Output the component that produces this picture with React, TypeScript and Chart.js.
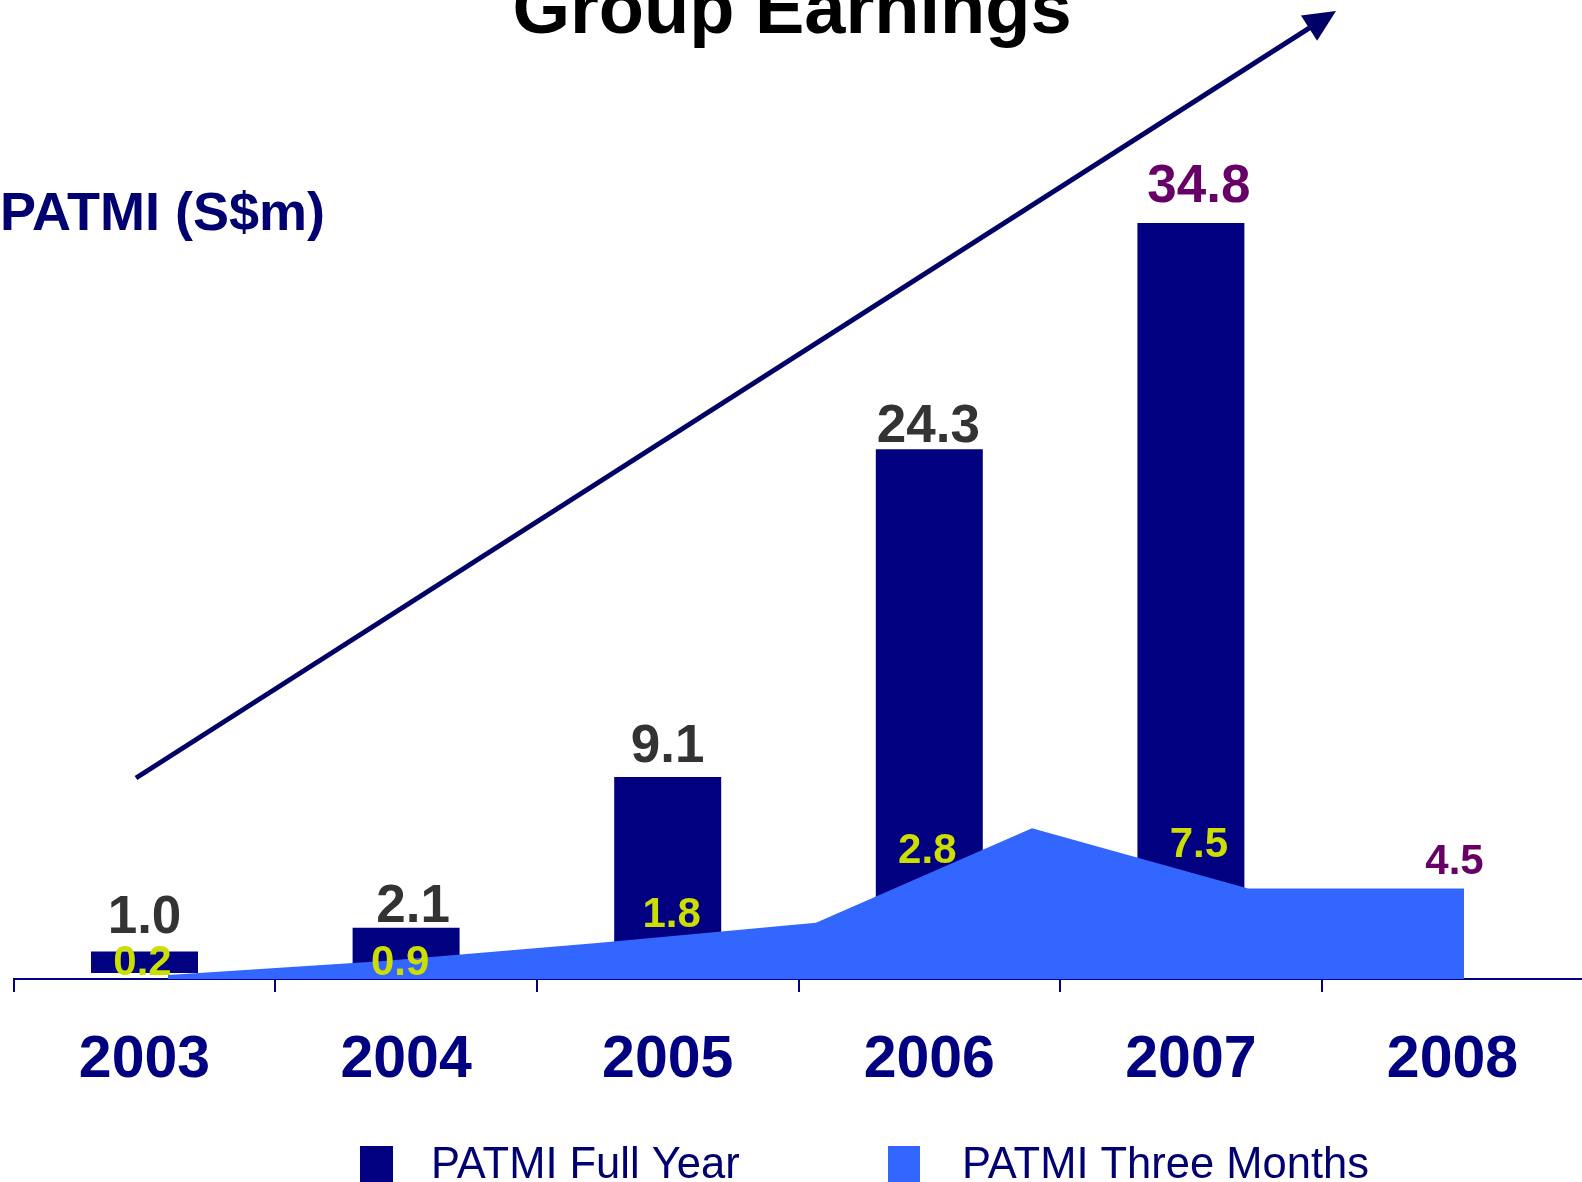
import React, { useEffect, useRef } from "react";
import { Chart, registerables } from "chart.js";

Chart.register(...registerables);

// ---- data ----
const years = ["2003", "2004", "2005", "2006", "2007", "2008"];
const fullYearValues: (number | null)[] = [1.0, 2.1, 9.1, 24.3, 34.8, null];
const threeMonthValues = [0.2, 0.9, 1.8, 2.8, 7.5, 4.5];
// vertices of the blue area as drawn in the picture (7 evenly spaced points)
const threeMonthAreaValues = [0.2, 0.9, 1.8, 2.8, 7.5, 4.5, 4.5];

const TITLE = "Group Earnings";
const Y_LABEL = "PATMI (S$m)";
const SERIES_FULL = "PATMI Full Year";
const SERIES_THREE = "PATMI Three Months";

// ---- styles / label placement ----
const FONT = '"Liberation Sans", Arial, Helvetica, sans-serif';
const NAVY = "#000080";
const NAVY_TEXT = "#000070";
const BLUE = "#3366FF";
const GREY = "#333333";
const PURPLE = "#660066";
const YELLOW = "#CCDD00";

const barLabelGap = [18, 6, 15, 7, 21];
const barLabelDx = [0, 7, 0, -1, 8];
const barLabelColor = [GREY, GREY, GREY, GREY, PURPLE];
const tmLabelDx = [-2, -6, 4, -2, 8, 2];
const tmLabelDy = [0, 14, -16, -60, 29, -15];
const tmLabelColor = [YELLOW, YELLOW, YELLOW, YELLOW, YELLOW, PURPLE];

const decorPlugin = {
  id: "decor",
  afterDraw(chart: any) {
    const ctx = chart.ctx as CanvasRenderingContext2D;
    const xs = chart.scales.x;
    const y2 = chart.scales.y2;
    ctx.save();

    // trend arrow
    const sx = 136, sy = 778, tx = 1336, ty = 11;
    const dx = tx - sx, dy = ty - sy;
    const len = Math.hypot(dx, dy);
    const ux = dx / len, uy = dy / len;
    const headLen = 32, headHalf = 15;
    const bx = tx - ux * headLen, by = ty - uy * headLen;
    ctx.strokeStyle = "#000066";
    ctx.lineWidth = 5;
    ctx.beginPath();
    ctx.moveTo(sx, sy);
    ctx.lineTo(bx + ux * 2, by + uy * 2);
    ctx.stroke();
    ctx.fillStyle = "#000066";
    ctx.beginPath();
    ctx.moveTo(tx, ty);
    ctx.lineTo(bx - uy * headHalf, by + ux * headHalf);
    ctx.lineTo(bx + uy * headHalf, by - ux * headHalf);
    ctx.closePath();
    ctx.fill();

    // title
    ctx.fillStyle = "#000000";
    ctx.font = `bold 74px ${FONT}`;
    ctx.textAlign = "center";
    ctx.textBaseline = "alphabetic";
    ctx.fillText(TITLE, 792, 33);

    // y label
    ctx.fillStyle = NAVY_TEXT;
    ctx.font = `bold 54px ${FONT}`;
    ctx.textAlign = "left";
    ctx.fillText(Y_LABEL, 0, 230);

    // full year labels
    const barMeta = chart.getDatasetMeta(1);
    ctx.font = `bold 53px ${FONT}`;
    ctx.textAlign = "center";
    fullYearValues.forEach((v, i) => {
      if (v == null) return;
      const bar = barMeta.data[i];
      ctx.fillStyle = barLabelColor[i];
      ctx.fillText(v.toFixed(1), bar.x + barLabelDx[i], bar.y - barLabelGap[i]);
    });

    // three month labels
    ctx.font = `bold 42px ${FONT}`;
    threeMonthValues.forEach((v, i) => {
      ctx.fillStyle = tmLabelColor[i];
      const px = xs.getPixelForValue(i) + tmLabelDx[i];
      const py = y2.getPixelForValue(v) + tmLabelDy[i];
      ctx.fillText(v.toFixed(1), px, py);
    });

    // legend
    const items = [
      { label: chart.data.datasets[1].label, color: chart.data.datasets[1].backgroundColor, bx: 360, bw: 33, tx: 431 },
      { label: chart.data.datasets[0].label, color: chart.data.datasets[0].backgroundColor, bx: 888, bw: 32, tx: 962 },
    ];
    ctx.font = `43.5px ${FONT}`;
    ctx.textAlign = "left";
    items.forEach((it) => {
      ctx.fillStyle = it.color;
      ctx.fillRect(it.bx, 1146, it.bw, 40);
      ctx.fillStyle = NAVY_TEXT;
      ctx.fillText(it.label, it.tx, 1178);
    });

    ctx.restore();
  },
};

export default function App() {
  const ref = useRef<HTMLCanvasElement | null>(null);

  useEffect(() => {
    if (!ref.current) return;
    Chart.defaults.font.family = FONT;
    const chart = new Chart(ref.current, {
      type: "bar",
      data: {
        labels: years,
        datasets: [
          {
            type: "line",
            label: SERIES_THREE,
            data: threeMonthAreaValues.map((v, i) => ({ x: i, y: v })),
            xAxisID: "x2",
            yAxisID: "y2",
            backgroundColor: BLUE,
            borderColor: BLUE,
            borderWidth: 0,
            pointRadius: 0,
            tension: 0,
            fill: "origin",
            order: 0,
          } as any,
          {
            type: "bar",
            label: SERIES_FULL,
            data: fullYearValues,
            backgroundColor: NAVY,
            borderWidth: 0,
            grouped: false,
            categoryPercentage: 1,
            barPercentage: 0.409,
            xAxisID: "x",
            yAxisID: "y",
            order: 1,
          },
        ],
      },
      options: {
        animation: false,
        responsive: false,
        maintainAspectRatio: false,
        layout: { padding: { left: 13.7, right: 16.7, top: 111, bottom: 52 } },
        plugins: {
          legend: { display: false },
          tooltip: { enabled: false },
          title: { display: false },
        },
        scales: {
          x: {
            type: "category",
            offset: true,
            grid: {
              display: true,
              drawOnChartArea: false,
              drawTicks: true,
              tickLength: 13,
              color: NAVY,
              lineWidth: 2,
              offset: true,
            },
            border: { display: true, color: NAVY, width: 2 },
            ticks: {
              color: NAVY,
              padding: 33.6,
              font: { size: 59, weight: "bold", family: FONT },
            },
          },
          x2: {
            type: "linear",
            display: false,
            offset: false,
            grid: { offset: false },
            min: -0.714,
            max: 6.552,
          },
          y: {
            display: false,
            min: -0.278,
            max: 40,
          },
          y2: {
            display: false,
            min: 0,
            max: 43.18,
          },
        },
      },
      plugins: [decorPlugin],
    });
    return () => chart.destroy();
  }, []);

  return (
    <div
      style={{
        position: "fixed",
        left: 0,
        top: 0,
        width: 1582,
        height: 1182,
        overflow: "hidden",
        background: "#ffffff",
      }}
    >
      <canvas ref={ref} width={1600} height={1182} style={{ display: "block", width: 1600, height: 1182 }} />
    </div>
  );
}
